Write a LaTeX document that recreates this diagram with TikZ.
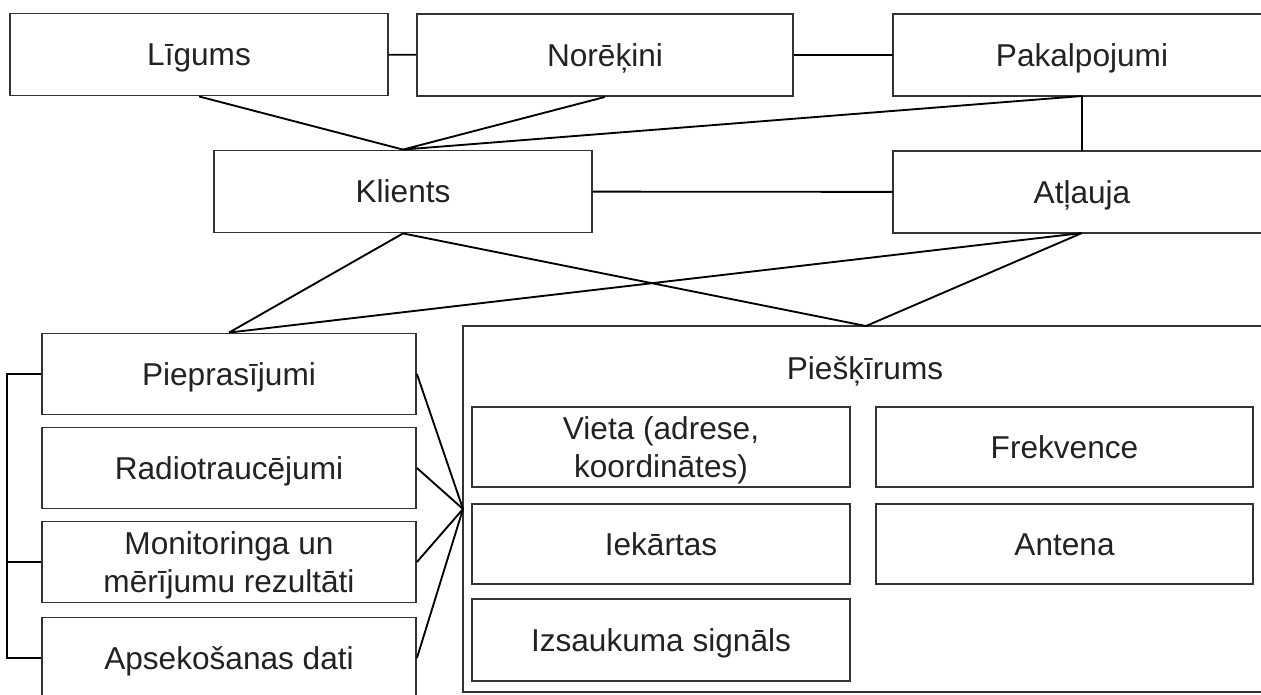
\documentclass[tikz,border=0pt]{standalone}
\usepackage{fontspec}
\setmainfont{Liberation Sans}
\definecolor{edge}{HTML}{333333}
\definecolor{ink}{HTML}{222222}

\begin{document}
\begin{tikzpicture}[x=0.75pt, y=-0.75pt,
    every node/.style = {font=\fontsize{23.7}{28.3}\selectfont, text=ink, align=center,
                         text height=18pt, text depth=1pt},
    twolines/.style = {text height=51pt, text depth=5pt},
    box/.style = {draw=edge, line width=1.4pt, rectangle, inner sep=0pt,
                  minimum width=283.5pt, minimum height=61.5pt},
    cutbox/.style = {box, draw=none, outer sep=0pt},
    item/.style = {box, minimum width=280.5pt, minimum height=60.75pt},
    part/.style = {box, minimum width=283pt, minimum height=60pt},
    frame/.style = {draw=edge, line width=1.4pt},
    link/.style = {draw=black, line width=1.4pt}]
    \useasboundingbox (0,0) rectangle (1261,694);
    \clip (0,0) rectangle (1261,694);
    \node[box] (Ligums) at (199,54.5) {Līgums};
    \node[box, minimum width=282pt] (Norekini) at (605,55) {Norēķini};
    \node[cutbox] (Pakalpojumi) at (1082,55) {Pakalpojumi};
    \node[box] (Klients) at (403,191.5) {Klients};
    \node[cutbox] (Atlauja) at (1082,192) {Atļauja};
    \node[item] (Pieprasijumi) at (229,374) {Pieprasījumi};
    \node[item] (Radio) at (229,468) {Radiotraucējumi};
    \node[item, twolines] (Monitoringa) at (229,562) {Monitoringa un\\mērījumu rezultāti};
    \node[item] (Apsekosanas) at (229,658) {Apsekošanas dati};
    \node[cutbox, minimum width=604.5pt, minimum height=274.5pt] (Pieskirums) at (866,509) {};
    \node (PieskirumsLabel) at (865,368) {Piešķīrums};
    \node[part, twolines] (Vieta) at (661,447) {Vieta (adrese,\\koordinātes)};
    \node[part] (Frekvence) at (1064.5,447) {Frekvence};
    \node[part] (Iekartas) at (661,544) {Iekārtas};
    \node[part] (Antena) at (1064.5,544) {Antena};
    \node[part, minimum height=61.5pt] (Izsaukuma) at (661,640) {Izsaukuma signāls};
    \foreach \b in {Pakalpojumi, Atlauja, Pieskirums}
        \path[frame] (\b.north east) -- (\b.north west) -- (\b.south west) -- (\b.south east);
    \path[link] (Ligums) -- (Norekini) (Norekini) -- (Pakalpojumi)
        (Klients) -- (Atlauja) (Pakalpojumi) -- (Atlauja);
    \path[link] (Ligums.south) -- (Klients.north) (Norekini.south) -- (Klients.north)
        (Pakalpojumi.south) -- (Klients.north);
    \path[link] (Klients.south) -- (Pieprasijumi.north) (Klients.south) -- (Pieskirums.north)
        (Atlauja.south) -- (Pieprasijumi.north) (Atlauja.south) -- (Pieskirums.north);
    \foreach \n in {Pieprasijumi, Radio, Monitoringa, Apsekosanas}
        \path[link] (\n.east) -- (Pieskirums.west);
    \path[link] (Pieprasijumi.west) -- ++(-34,0) |- (Apsekosanas.west)
        (Monitoringa.west) -- ++(-34,0);
\end{tikzpicture}
\end{document}
